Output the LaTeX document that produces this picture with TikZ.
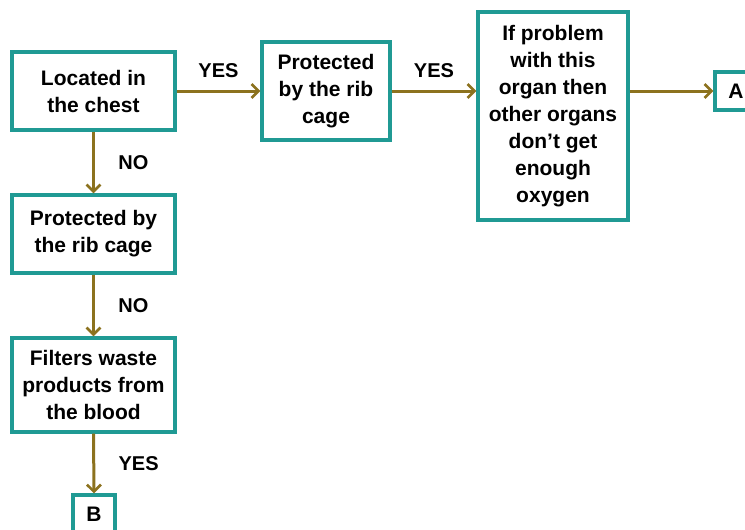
\documentclass[tikz,border=0pt]{standalone}
\usepackage{fontspec}
\setmainfont{Liberation Sans}
\usetikzlibrary{arrows.meta}
\usetikzlibrary{positioning}

\definecolor{boxteal}{RGB}{32,154,148}
\definecolor{arrowolive}{RGB}{140,114,30}

\tikzset{
  organbox/.style={draw=boxteal, line width=3.2pt, fill=white, align=center,
    inner sep=2pt, font=\bfseries\fontsize{21}{27}\selectfont},
  flow/.style={draw=arrowolive, line width=3pt,
    -{Straight Barb[length=7pt,width=14pt,line width=2.6pt]}},
  answer/.style={font=\bfseries\fontsize{20}{22}\selectfont}
}

\begin{document}
\begin{tikzpicture}[x=1pt,y=-1pt]
  \useasboundingbox (0,0) rectangle (745,530);

  % top row
  \node[organbox, minimum width=163pt, minimum height=78pt] (chest) at (93.5,91) {Located in\\the chest};
  \node[organbox, minimum width=128pt, minimum height=98pt] (ribtop) at (326,91) {Protected\\by the rib\\cage};
  \node[organbox, minimum width=150pt, minimum height=208pt] (oxygen) at (553,116) {If problem\\with this\\organ then\\other organs\\don't get\\enough\\oxygen};
  \node[organbox, minimum width=42pt, minimum height=38pt, inner sep=0pt] (a) at (736,91) {A};

  % left column
  \node[organbox, minimum width=163pt, minimum height=78pt] (ribleft) at (93.5,234) {Protected by\\the rib cage};
  \node[organbox, minimum width=163pt, minimum height=94pt] (waste) at (93.5,385) {Filters waste\\products from\\the blood};
  \node[organbox, minimum width=42pt, minimum height=38pt, inner sep=0pt] (b) at (94,514) {B};

  % arrows
  \draw[flow] (chest) -- (ribtop)
    node[answer, midway, above=8pt] (yes1) {YES};
  \draw[flow] (ribtop.east) -- (ribtop.east -| oxygen.west)
    node[answer, midway, above=8pt] (yes2) {YES};
  \draw[flow] (oxygen.east |- a.west) -- (a.west);

  \draw[flow] (chest.south) -- (ribleft.north)
    node[answer, midway, right=20pt] (no1) {NO};
  \draw[flow] (ribleft.south) -- (waste.north)
    node[answer, midway, right=20pt] (no2) {NO};
  \draw[flow] (waste.south) -- (b.north)
    node[answer, midway, right=20pt] (yes3) {YES};
\end{tikzpicture}
\end{document}
